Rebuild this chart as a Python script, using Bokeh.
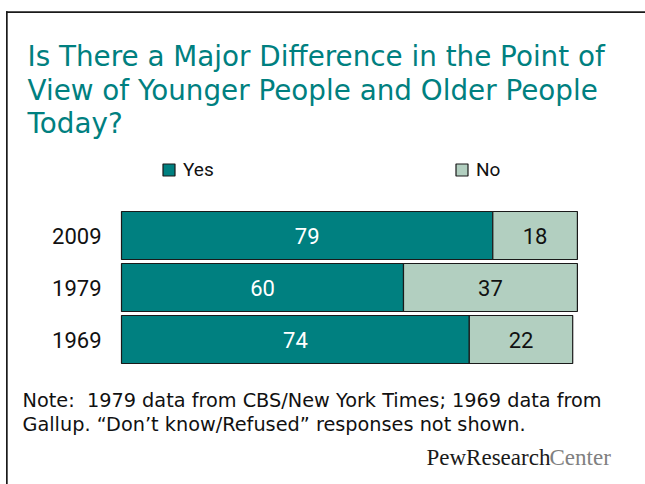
from bokeh.plotting import figure
from bokeh.models import ColumnDataSource, Range1d, Label, Legend, LegendItem, BoxAnnotation
from bokeh.core.properties import value
from bokeh.embed import file_html
from bokeh.resources import INLINE

# ---- data ----
years = ["2009", "1979", "1969"]
yes = [79, 60, 74]
no = [18, 37, 22]
series = ["Yes", "No"]
title_lines = ["Is There a Major Difference in the Point of",
               "View of Younger People and Older People",
               "Today?"]
note_lines = ["Note:\u00a0 1979 data from CBS/New York Times; 1969 data from",
              "Gallup. \u201cDon\u2019t know/Refused\u201d responses not shown."]

# ---- layout constants ----
W, H = 645, 484
SX = 4.70       # px per percentage point
X0 = 121        # px of value 0
PITCH = 52      # px between bar centres
TOP_C = 235     # px (from top) of first bar centre
TEAL = "#008080"
LIGHT = "#b2cfc0"
NUMFONT = "Roboto"
TXTFONT = "DejaVu Sans"

n = len(years)
pos = [n - 1 - i for i in range(n)]
xs = -X0 / SX
ye = (n - 1) + TOP_C / PITCH

src = ColumnDataSource(dict(
    year=years, pos=pos, yes=yes, no=no,
    total=[a + b for a, b in zip(yes, no)],
    yes_mid=[a / 2 for a in yes],
    no_mid=[a + b / 2 for a, b in zip(yes, no)],
    yes_txt=[str(a) for a in yes],
    no_txt=[str(b) for b in no],
))

p = figure(width=W, height=H, output_backend="svg", toolbar_location=None,
           x_range=Range1d(xs, xs + W / SX), y_range=Range1d(ye - H / PITCH, ye),
           x_axis_location=None, y_axis_location=None, min_border=0)
p.grid.visible = False
p.outline_line_color = None
p.outline_line_alpha = 0
p.background_fill_color = "white"
p.border_fill_color = "white"

bh = 48 / PITCH
r_yes = p.hbar(y="pos", left=0, right="yes", height=bh, source=src,
               fill_color=TEAL, line_color="#1a1a1a", line_width=1.2)
r_no = p.hbar(y="pos", left="yes", right="total", height=bh, source=src,
              fill_color=LIGHT, line_color="#1a1a1a", line_width=1.2)

p.text(x="yes_mid", y="pos", text="yes_txt", source=src, text_align="center",
       text_baseline="middle", text_color="white", text_font=value(NUMFONT),
       text_font_size="22px")
p.text(x="no_mid", y="pos", text="no_txt", source=src, text_align="center",
       text_baseline="middle", text_color="#111111", text_font=value(NUMFONT),
       text_font_size="22px")
p.text(x=0, y="pos", text="year", source=src, x_offset=-20, text_align="right",
       text_baseline="middle", text_color="#111111", text_font=value(NUMFONT),
       text_font_size="22px")

# legends
for rend, lab, lx in [(r_yes, series[0], 161), (r_no, series[1], 454)]:
    leg = Legend(items=[LegendItem(label=lab, renderers=[rend])],
                 location=(lx, 303), padding=0, margin=0, border_line_color=None,
                 background_fill_alpha=0, glyph_width=15, glyph_height=15,
                 label_standoff=7, label_text_font=NUMFONT, label_text_font_size="19px",
                 label_text_color="#111111", label_height=15)
    p.add_layout(leg)

# title
for i, t in enumerate(title_lines):
    p.add_layout(Label(x=27, y=H - (56 + 33.5 * i), x_units="screen", y_units="screen",
                       text=t, text_font=TXTFONT, text_font_size="27.8px",
                       text_color=TEAL, text_baseline="alphabetic"))

# note
for i, t in enumerate(note_lines):
    p.add_layout(Label(x=22, y=H - (400 + 24 * i), x_units="screen", y_units="screen",
                       text=t, text_font=TXTFONT, text_font_size="19.3px",
                       text_color="#111111", text_baseline="alphabetic"))

# logo
p.add_layout(Label(x=426, y=H - 457, x_units="screen", y_units="screen",
                   text="PewResearch", text_font="Liberation Serif", text_font_size="23px",
                   text_color="#1a1a1a", text_baseline="alphabetic"))
p.add_layout(Label(x=549, y=H - 457, x_units="screen", y_units="screen",
                   text="Center", text_font="Liberation Serif", text_font_size="23px",
                   text_color="#808080", text_baseline="alphabetic"))

# frame border (left and top visible, running off the page)
border_kw = dict(left_units="screen", right_units="screen", top_units="screen",
                 bottom_units="screen", fill_color="#1a1a1a", fill_alpha=1.0,
                 line_color=None, line_alpha=0, line_width=0)
p.add_layout(BoxAnnotation(left=5.5, right=None, top=H - 10.8, bottom=H - 12.5, **border_kw))
p.add_layout(BoxAnnotation(left=5.5, right=7.2, top=H - 10.8, bottom=None, **border_kw))

open("out.html", "w").write(file_html(p, INLINE))
